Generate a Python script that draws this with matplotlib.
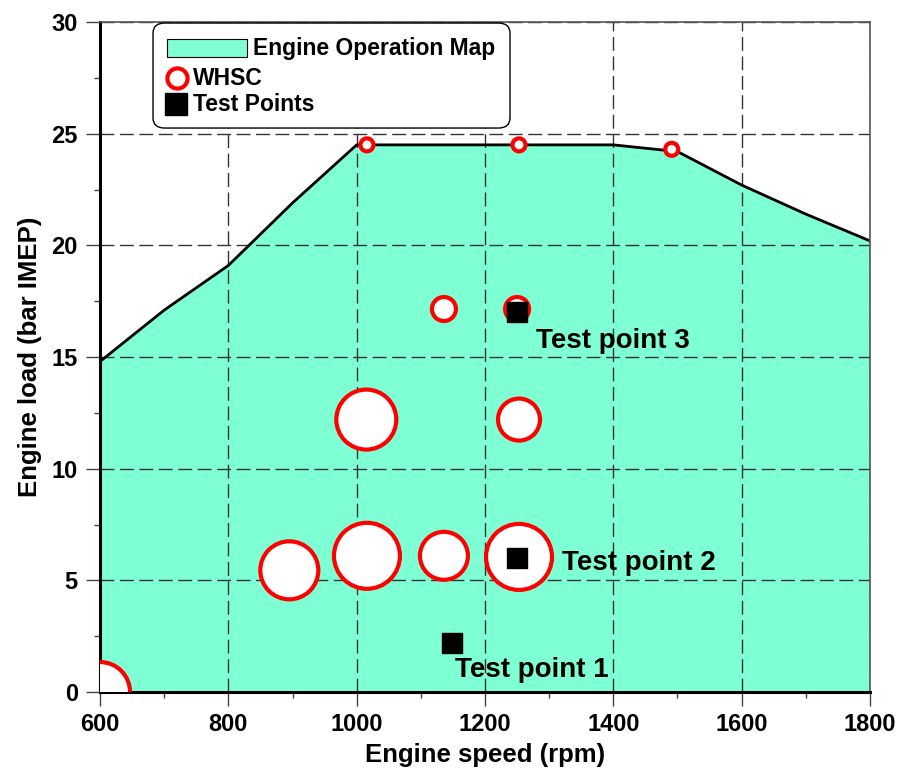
import matplotlib.pyplot as plt
from matplotlib.patches import FancyBboxPatch, Rectangle
from matplotlib.ticker import MultipleLocator

plt.rcParams["font.family"] = ["Liberation Sans", "DejaVu Sans"]
plt.rcParams["font.weight"] = "bold"

# operating map boundary (full load curve)
map_speed = [600, 700, 800, 900, 1000, 1100, 1200, 1300, 1400, 1500, 1600, 1700, 1800]
map_load = [14.8, 17.1, 19.1, 21.9, 24.5, 24.5, 24.5, 24.5, 24.5, 24.2, 22.7, 21.4, 20.2]

# WHSC points, marker diameter in pixels (weighting)
whsc_speed = [1016, 1253, 1491, 1136, 1250, 1015, 1253, 895, 1016, 1136, 1253, 600]
whsc_load = [24.5, 24.5, 24.3, 17.15, 17.15, 12.2, 12.2, 5.45, 6.1, 6.1, 6.05, 0.0]
whsc_diam = [13, 13, 13, 24, 24, 60, 42, 58, 66, 48, 66, 60]

# test points
test_speed = [1149, 1250, 1250]
test_load = [2.2, 6.0, 17.0]
test_labels = ["Test point 1", "Test point 2", "Test point 3"]
label_pos = [(1153, 1.0), (1320, 5.8), (1280, 15.7)]

legend_labels = ["Engine Operation Map", "WHSC", "Test Points"]

MAP_COLOR = "#7FFFD4"

fig = plt.figure(figsize=(9.02, 7.76), dpi=100)
ax = fig.add_axes([0.1109, 0.1082, 0.8536, 0.8634])

ax.fill_between(map_speed, map_load, 0, color=MAP_COLOR, zorder=1, linewidth=0)
ax.plot(map_speed, map_load, color="black", linewidth=2, zorder=2.6)

ax.grid(True, which="major", color="#333333", linestyle=(0, (10, 4)), linewidth=1)
ax.set_axisbelow(False)

sizes = [(0.72 * d) ** 2 for d in whsc_diam]
ax.scatter(whsc_speed, whsc_load, s=sizes, facecolor="white", edgecolor="red",
           linewidth=3, zorder=3)
ax.scatter(test_speed, test_load, s=(0.72 * 20) ** 2, marker="s", color="black", zorder=4)

for lbl, (x, y) in zip(test_labels, label_pos):
    ax.text(x, y, lbl, fontsize=20, fontweight="bold", va="center", ha="left", zorder=5)

ax.set_xlim(600, 1800)
ax.set_ylim(0, 30)
ax.xaxis.set_major_locator(MultipleLocator(200))
ax.xaxis.set_minor_locator(MultipleLocator(100))
ax.yaxis.set_major_locator(MultipleLocator(5))
ax.yaxis.set_minor_locator(MultipleLocator(2.5))
ax.tick_params(axis="both", which="major", labelsize=17, length=10, width=1,
               direction="out", color="#444444")
ax.tick_params(axis="x", which="major", pad=5)
ax.tick_params(axis="y", which="major", pad=6)
ax.tick_params(axis="both", which="minor", length=4, width=1, direction="out", color="#444444")
for lab in ax.get_xticklabels() + ax.get_yticklabels():
    lab.set_fontweight("bold")

ax.set_xlabel("Engine speed (rpm)", fontsize=18.5, fontweight="bold", labelpad=5)
ax.set_ylabel("Engine load (bar IMEP)", fontsize=18.5, fontweight="bold", labelpad=7)
for side in ["left", "bottom"]:
    ax.spines[side].set_linewidth(2.2)
for side in ["top", "right"]:
    ax.spines[side].set_linewidth(1.2)
    ax.spines[side].set_color("#555555")
for sp in ax.spines.values():
    sp.set_zorder(2.8)


# manual legend, placed in pixel-like axes fractions
def px(x, y):
    return (x - 100) / 770, (692 - y) / 670


x0, y0 = px(153, 128)
x1, y1 = px(510, 23)
box = FancyBboxPatch((x0, y0), x1 - x0, y1 - y0, boxstyle="round,pad=0,rounding_size=0.015",
                     transform=ax.transAxes, facecolor="white", edgecolor="black",
                     linewidth=1, zorder=6)
ax.add_patch(box)

rx0, ry0 = px(167, 57)
rx1, ry1 = px(247, 39)
ax.add_patch(Rectangle((rx0, ry0), rx1 - rx0, ry1 - ry0, transform=ax.transAxes,
                       facecolor=MAP_COLOR, edgecolor="black", linewidth=0.8, zorder=7))
tx, ty = px(253, 48)
ax.text(tx, ty, legend_labels[0], transform=ax.transAxes, fontsize=16.5,
        fontweight="bold", va="center", ha="left", zorder=7)

cx, cy = px(177, 78)
ax.plot([cx], [cy], marker="o", markersize=14.5, markerfacecolor="white",
        markeredgecolor="red", markeredgewidth=3, transform=ax.transAxes, zorder=7)
tx, ty = px(193, 78)
ax.text(tx, ty, legend_labels[1], transform=ax.transAxes, fontsize=16.5,
        fontweight="bold", va="center", ha="left", zorder=7)

sx, sy = px(176, 104)
ax.plot([sx], [sy], marker="s", markersize=16, color="black", transform=ax.transAxes, zorder=7)
tx, ty = px(193, 104)
ax.text(tx, ty, legend_labels[2], transform=ax.transAxes, fontsize=16.5,
        fontweight="bold", va="center", ha="left", zorder=7)

fig.savefig("out.png", dpi=100)
